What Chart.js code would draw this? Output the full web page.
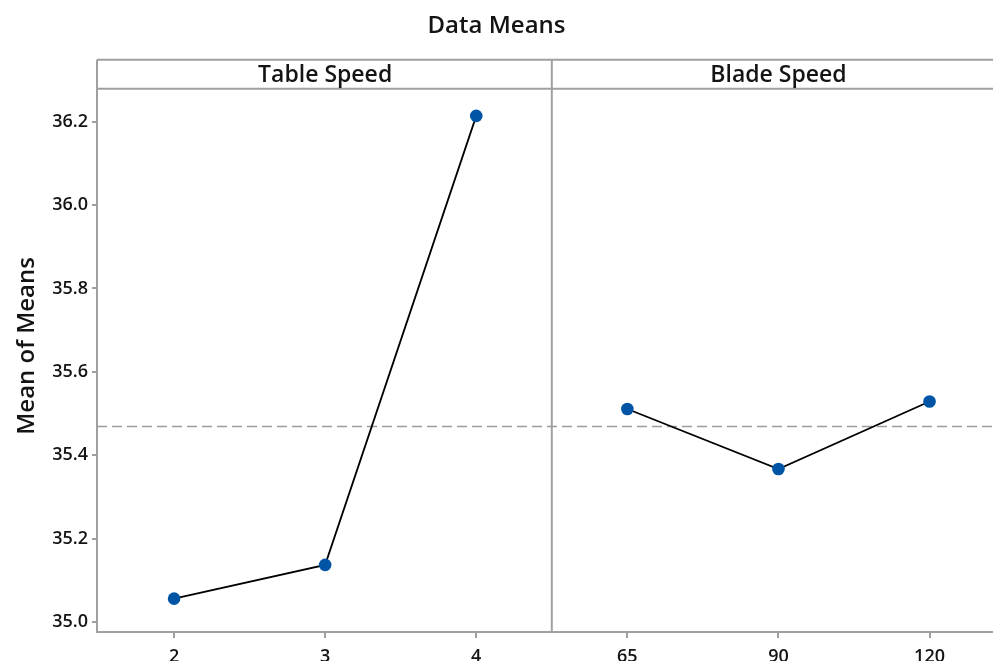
<!DOCTYPE html>
<html>
<head>
<meta charset="utf-8">
<script src="https://cdn.jsdelivr.net/npm/chart.js@4.4.0/dist/chart.umd.min.js"></script>
<style>
html, body { margin: 0; padding: 0; background: #fff; }
</style>
</head>
<body>
<canvas id="myChart" width="993" height="661"></canvas>
<script>
const factorNames = [ 'Table Speed', 'Blade Speed' ];
const tableLevels = [ '2', '3', '4' ];
const tableMeans = [ 35.056, 35.137, 36.214 ];
const bladeLevels = [ '65', '90', '120' ];
const bladeMeans = [ 35.511, 35.367, 35.529 ];
const grandMean = 35.469;
const yTicks = [ 35.0, 35.2, 35.4, 35.6, 35.8, 36.0, 36.2 ];
const yTitle = 'Mean of Means';

const levelLabels = tableLevels.concat( bladeLevels );
const FONT = "'Open Sans', 'Noto Sans', sans-serif";
const GRAY = '#a0a0a0';
const TEXT = '#141414';

// 水準を 1..6 の位置に並べる
const toPoints = ( values, offset ) => values.map( ( v, i ) => ( { x: offset + i + 1, y: v } ) );

const ctx = document.getElementById( 'myChart' ).getContext( '2d' );

// 因子の見出し帯、区切り線、全体平均の破線、縦軸タイトル
const panelPlugin = {
    id: 'panels',
    beforeDatasetsDraw( chart ) {
        const { ctx, chartArea, scales: { y } } = chart;
        const ym = y.getPixelForValue( grandMean );
        ctx.save();
        ctx.strokeStyle = '#9c9c9c';
        ctx.lineWidth = 1.5;
        ctx.setLineDash( [ 10, 5 ] );
        ctx.beginPath();
        ctx.moveTo( chartArea.left, ym );
        ctx.lineTo( chartArea.right, ym );
        ctx.stroke();
        ctx.restore();
    },
    afterDraw( chart ) {
        const { ctx, chartArea, scales: { x } } = chart;
        const stripTop = chartArea.top - 29;
        const divX = x.getPixelForValue( tableLevels.length + 0.5 );
        ctx.save();
        ctx.strokeStyle = GRAY;
        ctx.lineWidth = 2;
        ctx.beginPath();
        ctx.moveTo( chartArea.left, stripTop );
        ctx.lineTo( chartArea.right, stripTop );
        ctx.moveTo( chartArea.left, chartArea.top );
        ctx.lineTo( chartArea.right, chartArea.top );
        ctx.moveTo( chartArea.left, stripTop );
        ctx.lineTo( chartArea.left, chartArea.top );
        ctx.moveTo( divX, stripTop );
        ctx.lineTo( divX, chartArea.bottom );
        ctx.stroke();

        ctx.fillStyle = TEXT;
        ctx.font = '600 23px ' + FONT;
        ctx.textAlign = 'center';
        ctx.textBaseline = 'middle';
        factorNames.forEach( ( name, i ) => {
            ctx.fillText( name, x.getPixelForValue( i * 3 + 2 ), ( stripTop + chartArea.top ) / 2 + 1 );
        });

        // 縦軸タイトル（見出し帯を含む高さの中央）
        ctx.translate( 27, ( stripTop + chartArea.bottom ) / 2 );
        ctx.rotate( -Math.PI / 2 );
        ctx.font = '600 24px ' + FONT;
        ctx.fillText( yTitle, 0, 0 );
        ctx.restore();
    }
};

new Chart( ctx, {
    type: 'scatter',
    data: {
        datasets: [
            { data: toPoints( tableMeans, 0 ) },
            { data: toPoints( bladeMeans, 3 ) }
        ]
    },
    options: {
        responsive: false,
        animation: false,
        showLine: true,
        layout: { padding: 0, autoPadding: false },
        elements: {
            line: { borderColor: '#000', borderWidth: 1.8, tension: 0 },
            point: { radius: 6.3, backgroundColor: '#0054a6', borderWidth: 0 }
        },
        plugins: {
            legend: { display: false },
            tooltip: { enabled: false },
            title: {
                display: true,
                text: 'Data Means',
                color: TEXT,
                font: { family: FONT, size: 24, weight: '600' },
                padding: { top: 12, bottom: 48 }
            }
        },
        scales: {
            x: {
                type: 'linear',
                min: 0.49,
                max: 6.42,
                afterBuildTicks: ( scale ) => {
                    scale.ticks = levelLabels.map( ( l, i ) => ( { value: i + 1 } ) );
                },
                afterFit: ( scale ) => { scale.height = 29; },
                ticks: {
                    color: TEXT,
                    font: { family: FONT, size: 18, weight: '600' },
                    padding: 8,
                    maxRotation: 0,
                    callback: ( value ) => levelLabels[ value - 1 ]
                },
                grid: { drawOnChartArea: false, color: GRAY, lineWidth: 2, tickLength: 6 },
                border: { display: true, color: GRAY, width: 2 }
            },
            y: {
                min: 34.976,
                max: 36.279,
                afterBuildTicks: ( scale ) => {
                    scale.ticks = yTicks.map( v => ( { value: v } ) );
                },
                afterFit: ( scale ) => { scale.width = 97; },
                ticks: {
                    color: TEXT,
                    font: { family: FONT, size: 18, weight: '600' },
                    padding: 4,
                    callback: ( value ) => value.toFixed( 1 )
                },
                grid: { drawOnChartArea: false, color: GRAY, lineWidth: 2, tickLength: 5 },
                border: { display: true, color: GRAY, width: 2 }
            }
        }
    },
    plugins: [ panelPlugin ]
});
</script>
</body>
</html>
